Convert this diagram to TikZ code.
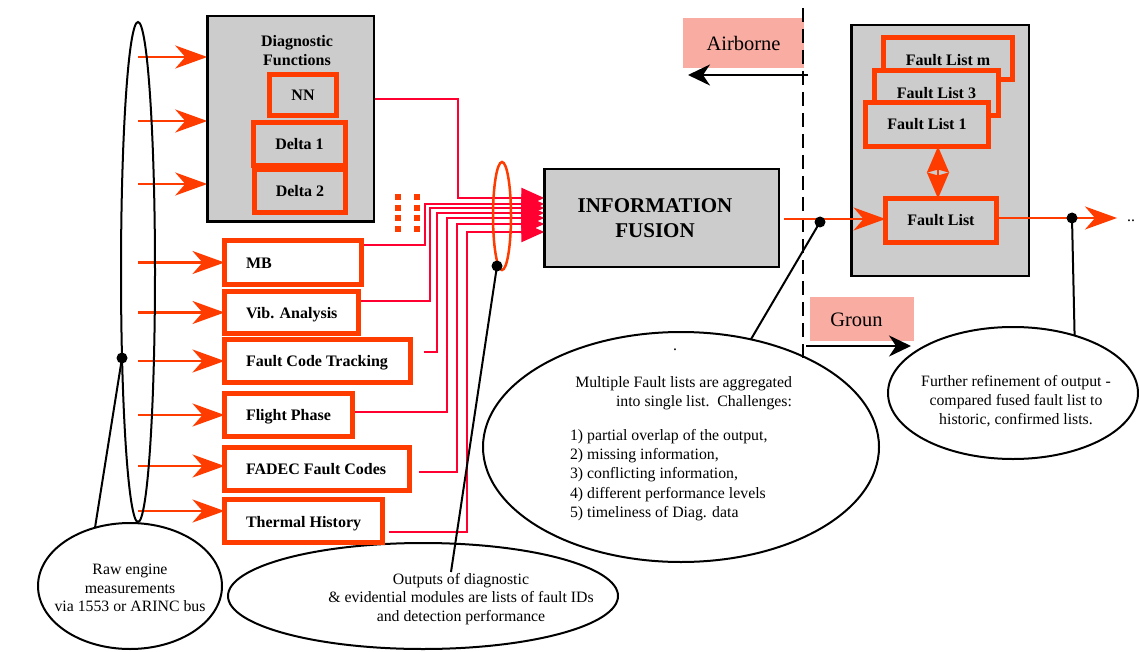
\documentclass[tikz,border=0pt]{standalone}
\usepackage{fontspec}
\setmainfont{Liberation Serif}
\usetikzlibrary{arrows.meta,calc,shapes.geometric}
\pgfdeclarelayer{bg}
\pgfsetlayers{bg,main}
\definecolor{fgray}{HTML}{CCCCCC}
\definecolor{ored}{HTML}{FF3C00}
\definecolor{cred}{HTML}{FF0030}
\definecolor{pinkbg}{HTML}{F9ACA2}
\begin{document}
\begin{tikzpicture}[x=1pt,y=-1pt,
  every node/.style={inner sep=0pt,outer sep=0pt},
  graybox/.style={draw=black,line width=2.5pt,fill=fgray},
  redbox/.style={draw=ored,line width=5pt},
  lbl/.style={font=\fontsize{16}{19}\selectfont\bfseries},
  txt/.style={font=\fontsize{15.8}{19.2}\selectfont},
  stxt/.style={font=\fontsize{15.8}{18.7}\selectfont},
  bubble/.style={draw=black,line width=2pt,ellipse,inner sep=0pt},
  larrow/.style={draw=ored,line width=2.5pt,-{Stealth[length=32pt,width=23pt,inset=10pt]}},
  farrow/.style={draw=cred,line width=2.5pt,-{Triangle[length=23pt,width=20pt]}},
  blk/.style={draw=black,line width=2pt},
  bdot/.style={circle,fill=black,minimum size=11pt},
  barrow/.style={draw=black,line width=2.5pt,-{Stealth[length=22pt,width=21pt,inset=7pt]}},
  pinkbox/.style={fill=pinkbg,font=\fontsize{20.5}{24}\selectfont}
]
\useasboundingbox (0,0) rectangle (1139,652);

% ---- bubbles
\node[bubble,minimum width=34pt,minimum height=500pt] (bus) at (138,272) {};
\node[bubble,minimum width=184pt,minimum height=126pt] (raw) at (130,586) {};
\node[bubble,minimum width=390pt,minimum height=106pt] (outp) at (423,596) {};
\node[bubble,minimum width=396pt,minimum height=230pt] (multi) at (681,447) {};
\node[bubble,minimum width=250pt,minimum height=132pt] (further) at (1013,393) {};

\node[stxt,align=center] (rawt) at (130,588) {Raw engine\\measurements\\via 1553 or ARINC bus};
\node[stxt,align=center] (outt) at (461,599) {Outputs of diagnostic\\\& evidential modules are lists of fault IDs\\and detection performance};
\node[txt,align=right,anchor=east] (multih) at (792,393) {Multiple Fault lists are aggregated\\into single list.\ \ Challenges:};
\node[txt,align=left,anchor=west] (multil) at (570,475) {1) partial overlap of the output,\\2) missing information,\\3) conflicting information,\\4) different performance levels\\5) timeliness of Diag. data};
\node[txt] (multidot) at (675,350) {.};
\node[txt,align=center] (furthert) at (1016,401) {Further refinement of output -\\compared fused fault list to\\historic, confirmed lists.};

% ---- gray boxes
\node[graybox,minimum width=166.5pt,minimum height=205.5pt] (diag) at (290.5,119) {};
\node[lbl,align=center] (diagt) at (297,51) {Diagnostic\\Functions};
\node[redbox,fill=fgray,lbl,minimum width=67pt,minimum height=41pt] (nn) at (303,95) {NN};
\node[redbox,fill=fgray,lbl,minimum width=91pt,minimum height=43pt] (d2) at (300,191) {Delta 2};
\node[redbox,fill=fgray,lbl,minimum width=92pt,minimum height=43pt] (d1) at (299.5,144) {Delta 1};

\node[graybox,minimum width=234.5pt,minimum height=97.5pt] (fusion) at (661.5,218) {};
\node[font=\fontsize{21}{25}\selectfont\bfseries,align=center] (fusiont) at (655,218) {INFORMATION\\FUSION};

\node[graybox,minimum width=177.5pt,minimum height=250.5pt] (rbox) at (940,150.5) {};
\node[redbox,fill=fgray,minimum width=129pt,minimum height=42pt] (flm) at (948,58.5) {};
\node[lbl] (flmt) at (948,60) {Fault List m};
\node[redbox,fill=fgray,lbl,minimum width=124pt,minimum height=45pt] (fl3) at (936.5,93) {Fault List 3};
\node[redbox,fill=fgray,lbl,minimum width=123pt,minimum height=44pt] (fl1) at (927,124.5) {Fault List 1};
\node[redbox,fill=fgray,lbl,minimum width=111pt,minimum height=44pt] (fl) at (941,220.5) {Fault List};

% ---- left boxes
\node[redbox,fill=white,minimum width=137pt,minimum height=44pt] (mb) at (293,262.5) {};
\node[redbox,fill=white,minimum width=134pt,minimum height=42pt] (vib) at (291.5,312.5) {};
\node[redbox,fill=white,minimum width=186pt,minimum height=43pt] (fct) at (317.5,361) {};
\node[redbox,fill=white,minimum width=128pt,minimum height=43pt] (fp) at (288.5,415) {};
\node[redbox,fill=white,minimum width=185pt,minimum height=43pt] (fadec) at (317,469) {};
\node[redbox,fill=white,minimum width=158pt,minimum height=43pt] (th) at (303.5,521) {};
\node[lbl,anchor=base west] (mbt) at (246,268) {MB};
\node[lbl,anchor=base west] (vibt) at (246,318) {Vib. Analysis};
\node[lbl,anchor=base west] (fctt) at (246,366.5) {Fault Code Tracking};
\node[lbl,anchor=base west] (fpt) at (246,420.5) {Flight Phase};
\node[lbl,anchor=base west] (fadect) at (246,474.5) {FADEC Fault Codes};
\node[lbl,anchor=base west] (tht) at (246,527) {Thermal History};

% ---- pink labels and dashed boundary
\node[pinkbox,minimum width=121pt,minimum height=50pt] (air) at (743.5,43) {Airborne};
\node[pinkbox,minimum width=104pt,minimum height=44pt] (gnd) at (862,319) {};
\node[font=\fontsize{20.5}{24}\selectfont] (gndt) at (856.5,320) {Groun};
\coordinate (dtop) at (803,8);
\coordinate (dbot) at (803,362);
\draw[black,line width=2.5pt,dash pattern=on 14pt off 7pt] (dtop) -- (dbot);
\coordinate (airs) at (808,75);
\coordinate (aire) at (688,75);
\draw[barrow] (airs) -- (aire);
\coordinate (gnds) at (806,346);
\coordinate (gnde) at (911,346);
\draw[barrow] (gnds) -- (gnde);

% ---- connectors (background)
\begin{pgfonlayer}{bg}
\foreach \yy in {57,121,184} \draw[larrow] (bus.center |- 0,\yy) -- (diag.west |- 0,\yy);
\draw[larrow] (bus.center |- mb.west) -- (mb.west);
\draw[larrow] (bus.center |- vib.west) -- (vib.west);
\draw[larrow] (bus.center |- fct.west) -- (fct.west);
\draw[larrow] (bus.center |- fp.west) -- (fp.west);
\draw[larrow] (bus.center |- 0,466) -- (fadec.west |- 0,466);
\draw[larrow] (bus.center |- 0,511) -- (th.west |- 0,511);

\draw[farrow] (diag.east |- 0,99) -| (458,198) -- (fusion.west |- 0,198);
\draw[farrow] (mb.east |- 0,245) -| (425,204) -- (fusion.west |- 0,204);
\draw[farrow] (vib.east |- 0,301) -| (430,208) -- (fusion.west |- 0,208);
\draw[farrow] ($(fct.east)+(13,-9)$) -| (437,213) -- (fusion.west |- 0,213);
\draw[farrow] (fp.east |- 0,412) -| (447,218) -- (fusion.west |- 0,218);
\draw[farrow] ($(fadec.east)+(9.5,3)$) -| (457,224) -- (fusion.west |- 0,224);
\draw[farrow] ($(th.east)+(6.5,11)$) -| (467,232) -- (fusion.west |- 0,232);
\end{pgfonlayer}

% ---- dotted marks
\draw[ored,line width=6pt,dash pattern=on 6pt off 4.7pt] (398,194) -- (398,233);
\draw[ored,line width=6pt,dash pattern=on 6pt off 4.7pt] (417,194) -- (417,233);

% ---- orange bundle ellipse
\node[draw=ored,line width=2.5pt,ellipse,minimum width=18pt,minimum height=108pt] (oell) at (502,216) {};

% ---- fault list connectors
\draw[larrow] ($(fusion.east)+(5,1)$) -- ($(fusion.east -| fl.west)+(0,1)$);
\coordinate (rend) at (1117,218);
\draw[larrow] (fl.east |- rend) -- (rend);
\node[txt,anchor=base] (dd) at (1131,222) {..};
\draw[draw=ored,line width=2.5pt,{Stealth[length=26pt,width=22pt,inset=3pt]}-{Stealth[length=26pt,width=22pt,inset=3pt]}] (fl1.south -| 938,0) -- (fl.north -| 938,0);

% ---- callout dots and lines
\node[bdot] (bdot1) at (122,358) {};
\node[bdot] (odot) at (497,266) {};
\node[bdot] (fdot) at (820,222) {};
\node[bdot] (rdot) at (1072,218) {};
\coordinate (outend) at (451,572);
\draw[blk] (bdot1.center) -- (raw.121);
\draw[blk] (odot.center) -- (outend);
\draw[blk] (fdot.center) -- (multi.57);
\draw[blk] (rdot.center) -- (further.43);
\end{tikzpicture}
\end{document}
